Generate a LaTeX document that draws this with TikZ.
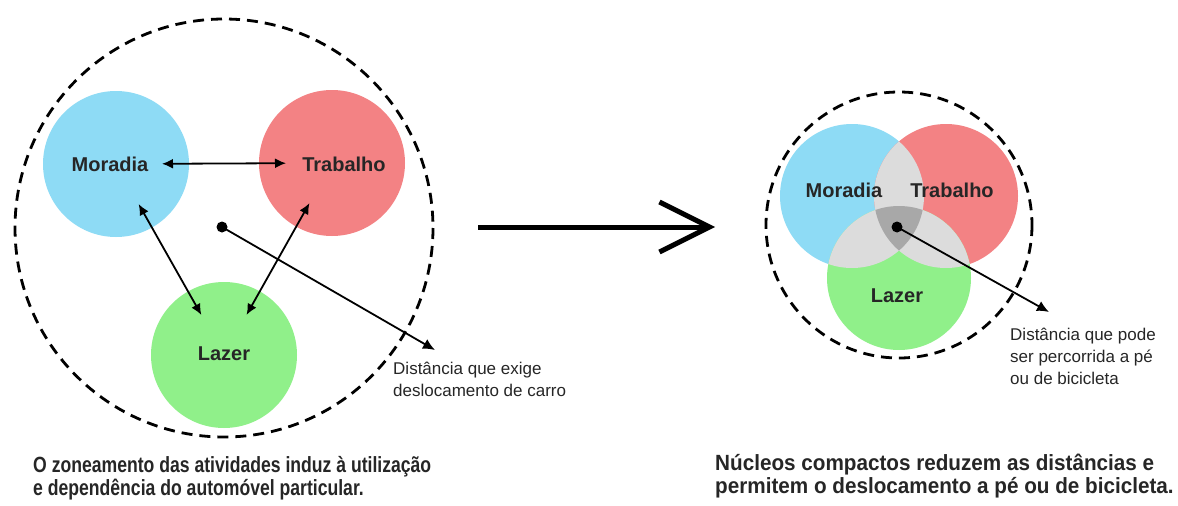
\documentclass[tikz,border=0pt]{standalone}
\usepackage{fontspec}
\setmainfont{Liberation Sans}
\newfontfamily\narrowfont[FakeStretch=0.80]{Liberation Sans}
\newfontfamily\widefont[FakeStretch=0.94]{Liberation Sans}
\usetikzlibrary{arrows.meta}
\definecolor{moradiablue}{RGB}{142,219,245}
\definecolor{trabalhored}{RGB}{243,130,132}
\definecolor{lazergreen}{RGB}{144,240,138}
\definecolor{overlapgrey}{RGB}{220,220,220}
\definecolor{coregrey}{RGB}{168,168,168}

\begin{document}
\begin{tikzpicture}[x=1pt, y=-1pt,
    zone/.style={circle, minimum size=146pt, inner sep=0pt},
    zonesmall/.style={circle, minimum size=144pt, inner sep=0pt},
    lbl/.style={font=\fontsize{20}{24}\selectfont\bfseries, text=black!85, inner sep=0pt},
    ring/.style={line width=2.8pt, dash pattern=on 11pt off 7pt},
    link/.style={{Latex[length=11pt,width=10pt]}-{Latex[length=11pt,width=10pt]}, line width=1.8pt, shorten <=46pt, shorten >=46pt},
    pointer/.style={-{Latex[length=12pt,width=11pt]}, line width=1.8pt},
    dotn/.style={circle, fill=black, minimum size=11pt, inner sep=0pt},
    note/.style={font=\fontsize{17}{22}\selectfont, text=black!85, align=left, anchor=base west, inner sep=0pt},
    caption/.style={text=black!85, align=left, anchor=base west, inner sep=0pt}]

    \fill[white] (0,0) rectangle (1178,506);
    \useasboundingbox (0,0) rectangle (1178,506);

    % zoneamento
    \draw[ring] (224,228) circle[radius=209];
    \node[zone, fill=moradiablue] (mor) at (116,164) {};
    \node[zone, fill=trabalhored] (trab) at (332,163) {};
    \node[zone, fill=lazergreen] (laz) at (224,355) {};
    \node[lbl] (morT) at (110,164) {Moradia};
    \node[lbl] (trabT) at (344,164) {Trabalho};
    \node[lbl] (lazT) at (224,354) {Lazer};
    \draw[link] (mor.center) -- (trab.center);
    \draw[link] (mor.center) -- (laz.center);
    \draw[link] (trab.center) -- (laz.center);
    \node[dotn] (d1) at (222,227) {};
    \coordinate (e1) at (435,350);
    \draw[pointer] (d1.center) -- (e1);
    \node[note] (n1) at (393,396) {Distância que exige\\deslocamento de carro};
    \node[caption, font=\narrowfont\bfseries\fontsize{22}{23}\selectfont] (capL) at (33,495)
      {O zoneamento das atividades induz à utilização\\e dependência do automóvel particular.};

    \coordinate (a1) at (478,227);
    \coordinate (a2) at (715,227);
    \draw[line width=5pt, -{Straight Barb[length=50pt,width=50pt]}] (a1) -- (a2);

    % nucleos compactos
    \draw[ring] (899,225) circle[radius=133];
    \node[zonesmall, fill=moradiablue] (mor2) at (852,196) {};
    \node[zonesmall, fill=trabalhored] (trab2) at (946,196) {};
    \node[zonesmall, fill=lazergreen] (laz2) at (899,278) {};
    \begin{scope}
      \clip (mor2.center) circle[radius=72];
      \fill[overlapgrey] (trab2.center) circle[radius=72];
      \fill[overlapgrey] (laz2.center) circle[radius=72];
    \end{scope}
    \begin{scope}
      \clip (trab2.center) circle[radius=72];
      \fill[overlapgrey] (laz2.center) circle[radius=72];
    \end{scope}
    \begin{scope}
      \clip (mor2.center) circle[radius=72];
      \clip (trab2.center) circle[radius=72];
      \fill[coregrey] (laz2.center) circle[radius=72];
    \end{scope}
    \node[lbl] (mor2T) at (844,190) {Moradia};
    \node[lbl] (trab2T) at (952,190) {Trabalho};
    \node[lbl] (laz2T) at (897,296) {Lazer};
    \node[dotn] (d2) at (897,227) {};
    \coordinate (e2) at (1049,312);
    \draw[pointer] (d2.center) -- (e2);
    \node[note] (n2) at (1010,384) {Distância que pode\\ser percorrida a pé\\ou de bicicleta};
    \node[caption, font=\widefont\bfseries\fontsize{22}{23}\selectfont] (capR) at (715,493)
      {Núcleos compactos reduzem as distâncias e\\permitem o deslocamento a pé ou de bicicleta.};
\end{tikzpicture}
\end{document}
